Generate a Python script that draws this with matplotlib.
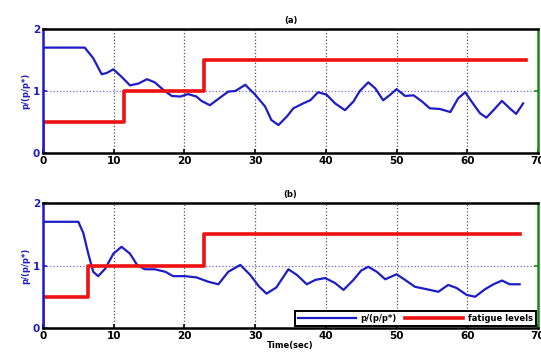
import matplotlib.pyplot as plt

# (a) response and fatigue levels
t_a = [0, 5.9, 7.1, 8.3, 9.0, 9.95, 11.1, 12.3, 13.5, 14.7, 15.8, 17.0, 18.2,
       19.4, 20.5, 21.7, 22.4, 23.6, 25.0, 26.2, 27.2, 28.6, 30.0, 31.4, 32.3,
       33.3, 34.5, 35.4, 36.8, 37.8, 38.9, 40.1, 41.3, 42.7, 43.9, 44.8, 46.0,
       47.0, 48.1, 49.1, 50.0, 51.2, 52.4, 53.6, 54.7, 56.1, 57.6, 58.7, 59.7,
       60.6, 61.8, 62.7, 63.7, 64.9, 66.0, 66.9, 67.9]
p_a = [1.70, 1.70, 1.53, 1.27, 1.29, 1.35, 1.23, 1.09, 1.12, 1.19, 1.14, 1.02,
       0.92, 0.91, 0.95, 0.91, 0.84, 0.77, 0.89, 0.99, 1.0, 1.10, 0.94, 0.75,
       0.53, 0.45, 0.59, 0.72, 0.80, 0.85, 0.98, 0.94, 0.80, 0.69, 0.83, 1.0,
       1.14, 1.04, 0.85, 0.94, 1.03, 0.92, 0.93, 0.83, 0.72, 0.71, 0.66, 0.88,
       0.98, 0.83, 0.64, 0.57, 0.69, 0.84, 0.72, 0.63, 0.80]
f_t_a = [0, 0, 11.4, 11.4, 22.8, 22.8, 68.3]
f_a = [0, 0.5, 0.5, 1.0, 1.0, 1.5, 1.5]

# (b) response and fatigue levels
t_b = [0, 5.0, 5.7, 6.4, 7.1, 7.8, 8.8, 9.95, 11.1, 12.3, 13.3, 14.4, 15.8,
       17.3, 18.4, 20.1, 21.7, 23.4, 24.8, 26.2, 27.9, 29.3, 30.5, 31.6, 33.0,
       34.7, 35.9, 37.3, 38.5, 39.9, 41.3, 42.5, 43.9, 45.0, 46.0, 47.2, 48.4,
       50.0, 51.2, 52.6, 54.3, 55.9, 57.3, 58.5, 59.9, 61.1, 62.5, 63.7, 64.9,
       66.0, 67.4]
p_b = [1.70, 1.70, 1.52, 1.19, 0.90, 0.83, 0.95, 1.19, 1.30, 1.19, 1.01, 0.94,
       0.94, 0.90, 0.83, 0.83, 0.81, 0.74, 0.70, 0.90, 1.01, 0.85, 0.67, 0.55,
       0.65, 0.94, 0.85, 0.70, 0.77, 0.80, 0.72, 0.61, 0.77, 0.92, 0.98, 0.90,
       0.78, 0.86, 0.77, 0.66, 0.62, 0.58, 0.69, 0.64, 0.53, 0.50, 0.62, 0.70,
       0.76, 0.70, 0.70]
f_t_b = [0, 0, 6.4, 6.4, 22.8, 22.8, 67.4]
f_b = [0, 0.5, 0.5, 1.0, 1.0, 1.5, 1.5]

x_ticks = [0, 10, 20, 30, 40, 50, 60, 70]
y_ticks = [0, 1, 2]

blue = '#1c1cc8'
red = '#ee1111'
green = '#1a8a1a'

fig = plt.figure(figsize=(5.41, 3.54), dpi=100)
ax_a = fig.add_axes([0.0795, 0.568, 0.915, 0.35])
ax_b = fig.add_axes([0.0795, 0.0734, 0.915, 0.353])

panels = [(ax_a, t_a, p_a, f_t_a, f_a, '(a)'), (ax_b, t_b, p_b, f_t_b, f_b, '(b)')]
for ax, t, p, ft, f, title in panels:
    ax.plot(t, p, color=blue, linewidth=1.6, label='p/(p/p*)')
    ax.plot(ft, f, color=red, linewidth=2.6, label='fatigue levels')
    ax.set_xlim(0, 70)
    ax.set_ylim(0, 2)
    ax.set_xticks(x_ticks)
    ax.set_yticks(y_ticks)
    ax.xaxis.grid(True, linestyle=':', color='#555555', linewidth=0.9)
    ax.axhline(1, linestyle=':', color='#6a6ae0', linewidth=0.9, zorder=0)
    for side in ['top', 'bottom']:
        ax.spines[side].set_linewidth(1.8)
        ax.spines[side].set_color('black')
    ax.spines['left'].set_color(blue)
    ax.spines['left'].set_linewidth(1.8)
    ax.spines['right'].set_color(green)
    ax.spines['right'].set_linewidth(1.8)
    ax.tick_params(axis='x', labelsize=7.5, width=1.2, length=3, direction='in', pad=2)
    ax.tick_params(axis='y', labelsize=7.5, colors=blue, width=1.2, length=3,
                   direction='in', pad=2)
    for lbl in ax.get_xticklabels() + ax.get_yticklabels():
        lbl.set_fontweight('heavy')
    ax.set_ylabel('p/(p/p*)', fontsize=6, fontweight='bold', color=blue, labelpad=2)
    ax.set_title(title, fontsize=6, fontweight='bold', pad=4)

    # right axis in green, tick at 1 only
    ax_r = ax.twinx()
    ax_r.set_ylim(0, 2)
    ax_r.set_yticks([1])
    ax_r.set_yticklabels([])
    ax_r.tick_params(axis='y', colors=green, direction='in', length=3, width=1.2)
    for s in ax_r.spines.values():
        s.set_visible(False)

ax_b.set_xlabel('Time(sec)', fontsize=6, fontweight='bold', labelpad=0)
leg = ax_b.legend(loc='lower right', ncol=2, frameon=True, fancybox=False,
                  borderpad=0.35, handlelength=7, columnspacing=1.0, handletextpad=0.5,
                  borderaxespad=0.3, prop={'weight': 'bold', 'size': 6})
leg.get_frame().set_edgecolor('black')
leg.get_frame().set_linewidth(1.4)
leg.get_frame().set_alpha(1)

fig.savefig('out.png', dpi=100)
